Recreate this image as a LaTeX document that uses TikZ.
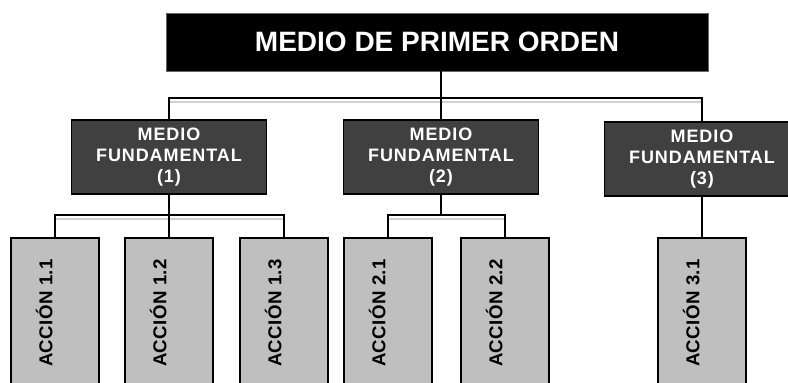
\documentclass[tikz,border=0pt]{standalone}
\usepackage{fontspec}
\setmainfont{Liberation Sans}
\newfontfamily\midfont[LetterSpace=5]{Liberation Sans}
\newfontfamily\actfont[LetterSpace=2]{Liberation Sans}
\usetikzlibrary{positioning,backgrounds}

\begin{document}
\begin{tikzpicture}[
        x=0.75pt, y=-0.75pt,
        topbox/.style={draw=black!60, fill=black, text=white, minimum width=406.5pt, minimum height=43.5pt, font=\fontsize{21}{24}\selectfont\bfseries},
        midbox/.style={draw=black, line width=1pt, fill=black!75, text=white, minimum width=146.25pt, minimum height=55.5pt, inner sep=1pt, align=center, font=\midfont\fontsize{13.5}{15.5}\selectfont\bfseries},
        actbox/.style={draw=black, line width=1pt, fill=black!25, rotate=90, minimum width=112.5pt, minimum height=66pt, text height=10pt, text depth=14pt, font=\actfont\fontsize{14}{16}\selectfont\bfseries},
        link/.style={draw=black, line width=1.1pt},
        shade/.style={draw=black!18, line width=1.5pt, transform canvas={yshift=-3pt}}
      ]
        \useasboundingbox (0,0) rectangle (788,382);
        \clip (0,0) rectangle (788,382);

        \node[topbox] (top) at (437,42) {MEDIO DE PRIMER ORDEN};

        \node[midbox] (mid1) at (169,157) {MEDIO\\FUNDAMENTAL\\(1)};
        \node[midbox] (mid2) at (441,157) {MEDIO\\FUNDAMENTAL\\(2)};
        \node[midbox] (mid3) at (702,159) {MEDIO\\FUNDAMENTAL\\(3)};

        % rotated boxes: .east is the top side
        \node[actbox] (a11) at (55,313) {ACCIÓN 1.1};
        \node[actbox] (a12) at (169,313) {ACCIÓN 1.2};
        \node[actbox] (a13) at (284,313) {ACCIÓN 1.3};
        \node[actbox] (a21) at (388,313) {ACCIÓN 2.1};
        \node[actbox] (a22) at (505,313) {ACCIÓN 2.2};
        \node[actbox] (a31) at (702,313) {ACCIÓN 3.1};

        \coordinate (bus1) at (441,98);
        \coordinate (bus2) at (169,215);
        \coordinate (bus3) at (441,215);

        \begin{pgfonlayer}{background}
          \draw[shade] (mid1.north |- bus1) -- (mid3.north |- bus1);
          \draw[shade] (a11.east |- bus2) -- (a13.east |- bus2);
          \draw[shade] (a21.east |- bus3) -- (a22.east |- bus3);
        \end{pgfonlayer}

        \draw[link] (top.south -| mid2.north) -- (mid2.north);
        \draw[link] (mid1.north) |- (bus1) -| (mid3.north);
        \draw[link] (mid1.south) -- (a12.east);
        \draw[link] (a11.east) |- (bus2) -| (a13.east);
        \draw[link] (mid2.south) -- (bus3);
        \draw[link] (a21.east) |- (bus3) -| (a22.east);
        \draw[link] (mid3.south) -- (a31.east);
      \end{tikzpicture}
\end{document}
